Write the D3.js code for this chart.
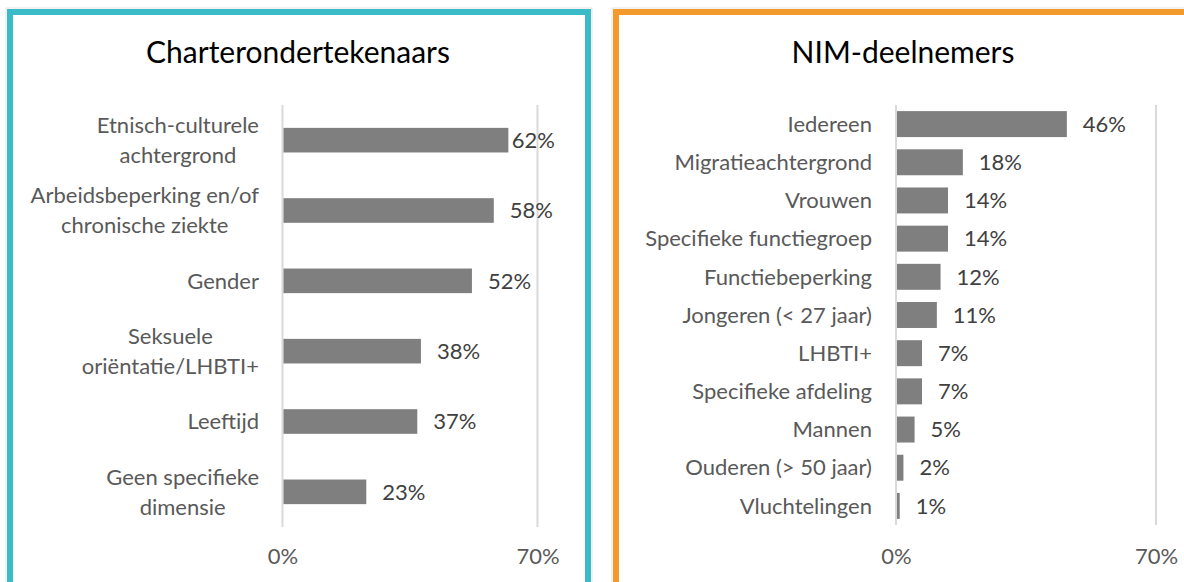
<!DOCTYPE html>
<html>
<head>
<meta charset="utf-8">
<script src="https://cdn.jsdelivr.net/npm/d3@7"></script>
<style>
  html, body { margin: 0; padding: 0; background: #fff; }
  svg { display: block; font-family: Lato, "Open Sans", sans-serif; }
</style>
</head>
<body>
<div id="chart"></div>
<script>
// left panel: charter signatories
var charterCategories = [
  "Etnisch-culturele\nachtergrond",
  "Arbeidsbeperking en/of\nchronische ziekte",
  "Gender",
  "Seksuele\noriëntatie/LHBTI+",
  "Leeftijd",
  "Geen specifieke\ndimensie"
];
var charterValues = [62, 58, 52, 38, 37, 23];

// right panel: NIM participants
var nimCategories = [
  "Iedereen",
  "Migratieachtergrond",
  "Vrouwen",
  "Specifieke functiegroep",
  "Functiebeperking",
  "Jongeren (< 27 jaar)",
  "LHBTI+",
  "Specifieke afdeling",
  "Mannen",
  "Ouderen (> 50 jaar)",
  "Vluchtelingen"
];
var nimValues = [46, 18, 14, 14, 12, 11, 7, 7, 5, 2, 1];

var axisTicks = [0, 70];
var titles = ["Charterondertekenaars", "NIM-deelnemers"];

var width = 1184, height = 582;
var fontSize = 22, titleSize = 30;

var svg = d3.select("#chart").append("svg")
  .attr("width", width)
  .attr("height", height);

function drawPanel(opt) {
  var g = svg.append("g");

  // frame
  g.append("rect")
    .attr("x", opt.frame[0] - 4).attr("y", 8)
    .attr("width", opt.frame[1] - opt.frame[0] + 8).attr("height", 640)
    .attr("fill", "none").attr("stroke", "#e3e3e3").attr("stroke-width", 1);
  g.append("rect")
    .attr("x", opt.frame[0]).attr("y", 12)
    .attr("width", opt.frame[1] - opt.frame[0]).attr("height", 640)
    .attr("fill", "#fff").attr("stroke", opt.color).attr("stroke-width", 6);

  g.append("text")
    .attr("x", opt.titleX).attr("y", 63)
    .attr("text-anchor", "middle")
    .style("font-size", titleSize + "px")
    .attr("fill", "#000")
    .text(opt.title);

  var x = d3.scaleLinear().domain([0, 70]).range(opt.xRange);
  var y = d3.scaleBand().domain(opt.categories).range([105, opt.yEnd])
    .paddingInner(opt.pad).paddingOuter(opt.pad / 2);

  // vertical gridlines
  g.append("g").selectAll("line")
    .data(axisTicks)
    .join("line")
    .attr("x1", function (d) { return x(d); })
    .attr("x2", function (d) { return x(d); })
    .attr("y1", 105).attr("y2", opt.yEnd)
    .attr("stroke", "#d9d9d9").attr("stroke-width", 2);

  // bottom axis, labels only
  var axis = g.append("g")
    .attr("transform", "translate(0," + 548 + ")")
    .call(d3.axisBottom(x).tickValues(axisTicks).tickSize(0).tickPadding(0)
      .tickFormat(function (d) { return d + "%"; }));
  axis.select(".domain").remove();
  axis.selectAll("text")
    .attr("dy", "0.71em")
    .style("font-size", fontSize + "px")
    .style("font-family", "Lato, sans-serif")
    .attr("fill", "#595959");

  var data = opt.categories.map(function (c, i) { return { cat: c, val: opt.values[i] }; });

  g.append("g").selectAll("rect")
    .data(data)
    .join("rect")
    .attr("x", x(0) + 1)
    .attr("y", function (d) { return y(d.cat); })
    .attr("width", function (d) { return x(d.val) - x(0) - 1; })
    .attr("height", y.bandwidth())
    .attr("fill", "#7f7f7f");

  // value labels
  g.append("g").selectAll("text")
    .data(data)
    .join("text")
    .attr("y", function (d) { return y(d.cat) + y.bandwidth() / 2; })
    .attr("dy", "0.35em")
    .style("font-size", fontSize + "px")
    .attr("fill", "#404040")
    .text(function (d) { return d.val + "%"; })
    .attr("x", function (d) {
      var w = this.getComputedTextLength();
      return Math.min(x(d.val) + 16, opt.labelMax - w);
    });

  // category labels: lines centred on each other, block right aligned
  var labels = g.append("g").selectAll("text")
    .data(data)
    .join("text")
    .style("font-size", fontSize + "px")
    .attr("fill", "#595959")
    .attr("text-anchor", "middle");
  labels.each(function (d) {
    var lines = d.cat.split("\n");
    var el = d3.select(this);
    var cy = y(d.cat) + y.bandwidth() / 2;
    lines.forEach(function (line, i) {
      el.append("tspan")
        .attr("y", cy + (i - (lines.length - 1) / 2) * 30)
        .attr("dy", "0.35em")
        .text(line);
    });
    var maxW = 0;
    el.selectAll("tspan").each(function () {
      maxW = Math.max(maxW, this.getComputedTextLength());
    });
    el.selectAll("tspan").attr("x", opt.labelRight - maxW / 2);
  });
}

drawPanel({
  title: titles[0], categories: charterCategories, values: charterValues,
  color: "#3bbac7", frame: [10, 588], titleX: 298,
  xRange: [282.5, 537.5], yEnd: 527, pad: 0.65,
  labelRight: 259, labelMax: 555
});

drawPanel({
  title: titles[1], categories: nimCategories, values: nimValues,
  color: "#f39a2d", frame: [616, 1200], titleX: 903,
  xRange: [896, 1156], yEnd: 525, pad: 0.32,
  labelRight: 872, labelMax: 1180
});
</script>
</body>
</html>
